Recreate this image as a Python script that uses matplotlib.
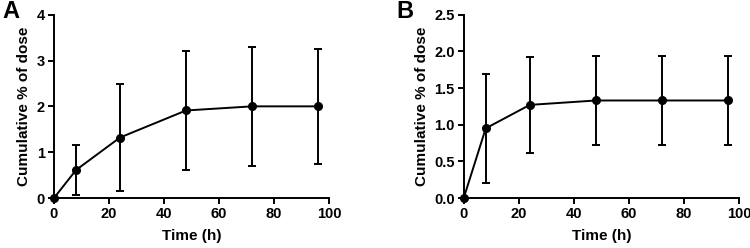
import matplotlib
matplotlib.use("Agg")
import matplotlib.pyplot as plt

plt.rcParams['font.family'] = ['Liberation Sans', 'DejaVu Sans']
plt.rcParams['font.weight'] = 'bold'

time_h = [0, 8, 24, 48, 72, 96]
dose_a = [0, 0.61, 1.32, 1.91, 2.0, 2.0]
err_a = [0, 0.54, 1.16, 1.29, 1.30, 1.26]
dose_b = [0, 0.95, 1.27, 1.33, 1.33, 1.33]
err_b = [0, 0.74, 0.65, 0.61, 0.61, 0.61]

fig = plt.figure(figsize=(7.5, 2.48), dpi=100)
axA = fig.add_axes([0.072, 0.2016, 0.3667, 0.7391])
axB = fig.add_axes([0.6183, 0.2016, 0.3670, 0.7391])

def style(ax, x, y, e, ylim, yticks, ytl):
    ax.errorbar(x, y, yerr=e, color='black', lw=1.4, marker='o', ms=5.5,
                capsize=3, capthick=1.4, elinewidth=1.4, clip_on=False, zorder=3)
    ax.set_xlim(0, 100)
    ax.set_ylim(*ylim)
    ax.set_xticks([0, 20, 40, 60, 80, 100])
    ax.set_yticks(yticks)
    ax.set_yticklabels(ytl)
    for s in ['top', 'right']:
        ax.spines[s].set_visible(False)
    for s in ['left', 'bottom']:
        ax.spines[s].set_linewidth(1.4)
    ax.tick_params(axis='both', direction='out', width=1.4, length=4, labelsize=10.5, pad=2.5)
    for lbl in ax.get_xticklabels() + ax.get_yticklabels():
        lbl.set_fontweight('bold')
    ax.set_xlabel('Time (h)', fontsize=11, fontweight='bold', labelpad=6)
    ax.set_ylabel('Cumulative % of dose', fontsize=11, fontweight='bold', labelpad=4)

style(axA, time_h, dose_a, err_a, (0, 4), [0, 1, 2, 3, 4], ['0', '1', '2', '3', '4'])
style(axB, time_h, dose_b, err_b, (0, 2.5), [0, 0.5, 1.0, 1.5, 2.0, 2.5],
      ['0.0', '0.5', '1.0', '1.5', '2.0', '2.5'])

fig.text(0.003, 0.998, 'A', fontsize=17, fontweight='bold', va='top', ha='left')
fig.text(0.528, 0.998, 'B', fontsize=17, fontweight='bold', va='top', ha='left')

fig.savefig('out.png', dpi=100)
